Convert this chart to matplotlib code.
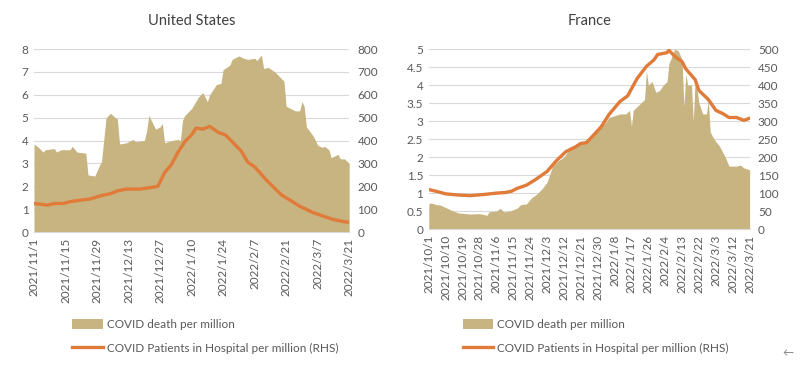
import numpy as np
import pandas as pd
import matplotlib
matplotlib.use("Agg")
import matplotlib.pyplot as plt
from matplotlib.patches import Patch
from matplotlib.lines import Line2D

plt.rcParams['font.family'] = ['Lato', 'DejaVu Sans']

# ---------- data ----------
# United States: days since 2021/11/1
us_start = "2021-11-01"
us_death_day = [0, 2, 4, 5, 9, 10, 12, 16, 17, 19, 23, 24, 27, 29, 30, 32, 34, 36, 37, 38,
                41, 44, 45, 49, 50, 51, 53, 54, 56, 57, 58, 61, 64, 65, 66, 67, 70, 73, 75, 77,
                78, 81, 83, 84, 87, 88, 91, 93, 95, 98, 99, 101, 102, 104, 107, 110, 111, 112, 114, 116,
                118, 119, 120, 121, 124, 126, 128, 129, 131, 132, 135, 136, 138, 140]
us_death = [3.85, 3.7, 3.5, 3.6, 3.65, 3.5, 3.6, 3.6, 3.75, 3.5, 3.45, 2.5, 2.45, 2.9, 3.1, 5.0, 5.2, 5.0, 4.95, 3.85,
            3.9, 4.05, 3.95, 4.0, 4.4, 5.1, 4.7, 4.5, 4.6, 4.75, 3.9, 4.0, 4.05, 4.0, 4.9, 5.1, 5.4, 5.9, 6.1, 5.7,
            6.0, 6.45, 6.5, 7.1, 7.3, 7.55, 7.7, 7.6, 7.55, 7.6, 7.5, 7.75, 7.15, 7.2, 7.0, 6.7, 6.6, 5.5, 5.4, 5.3,
            5.3, 5.7, 5.5, 4.6, 4.2, 3.8, 3.7, 3.75, 3.6, 3.25, 3.4, 3.2, 3.2, 3.0]
us_hosp_day = [0, 6, 9, 13, 16, 21, 25, 30, 34, 37, 41, 47, 52, 55, 58, 61, 64, 67, 70, 72,
               75, 78, 82, 85, 89, 92, 95, 98, 103, 106, 110, 114, 118, 124, 129, 133, 138, 140]
us_hosp = [125, 118, 125, 125, 133, 140, 145, 160, 168, 180, 188, 188, 195, 200, 260, 295, 350, 395, 425, 455,
           450, 462, 435, 425, 385, 355, 305, 285, 230, 200, 162, 138, 113, 85, 68, 55, 45, 43]

# France: days since 2021/10/1
fr_start = "2021-10-01"
fr_death_day = [0, 1, 4, 6, 9, 13, 16, 18, 22, 27, 30, 31, 32, 36, 38, 40, 43, 47, 49, 52,
                55, 57, 60, 63, 64, 66, 69, 72, 74, 77, 80, 83, 87, 90, 94, 96, 99, 102, 105, 107,
                108, 109, 112, 115, 116, 117, 119, 121, 123, 125, 127, 128, 130, 131, 133, 135, 136, 137, 138, 140,
                141, 142, 144, 146, 148, 149, 150, 152, 155, 158, 160, 164, 166, 168, 171]
fr_death = [0.7, 0.73, 0.68, 0.67, 0.6, 0.5, 0.45, 0.44, 0.42, 0.43, 0.4, 0.38, 0.48, 0.5, 0.58, 0.48, 0.5, 0.58, 0.68, 0.7,
            0.88, 0.95, 1.1, 1.3, 1.45, 1.75, 1.9, 2.0, 2.15, 2.25, 2.4, 2.45, 2.6, 2.8, 2.95, 3.1, 3.15, 3.2, 3.2, 3.3,
            2.85, 3.3, 3.45, 3.6, 4.4, 4.0, 4.1, 3.8, 3.85, 4.0, 4.1, 4.6, 4.85, 5.0, 4.95, 4.7, 3.4, 4.3, 4.0, 4.0,
            3.0, 4.2, 3.5, 3.2, 3.2, 3.6, 2.7, 2.5, 2.3, 2.0, 1.75, 1.75, 1.78, 1.7, 1.65]
fr_hosp_day = [0, 4, 9, 15, 22, 29, 36, 41, 44, 47, 52, 57, 63, 68, 73, 78, 81, 84, 88, 92,
               96, 102, 106, 111, 116, 120, 122, 127, 128, 131, 135, 137, 142, 144, 149, 153, 157, 160, 164, 168, 171]
fr_hosp = [110, 105, 98, 95, 93, 96, 100, 102, 105, 113, 122, 138, 160, 190, 215, 228, 238, 240, 262, 285,
           318, 355, 370, 418, 452, 470, 485, 490, 497, 480, 465, 445, 415, 385, 360, 330, 320, 310, 310, 302, 308]

area_color = '#C8B480'
line_color = '#E07B39'
grid_color = '#D9D9D9'
text_color = '#595959'


def draw_panel(ax, title, start, n_days, tick_step, d_day, death, h_day, hosp, ymax, ystep, rmax, rstep):
    ax.fill_between(d_day, death, 0, color=area_color, linewidth=0, zorder=2)
    ax.set_xlim(0, n_days)
    ax.set_ylim(0, ymax)
    yt = np.arange(0, ymax + 1e-9, ystep)
    ax.set_yticks(yt)
    ax.set_yticklabels([f"{v:g}" for v in yt])
    ax.grid(axis='y', color=grid_color, linewidth=0.8, zorder=0)
    ax.set_axisbelow(True)
    dates = pd.date_range(start, periods=n_days + 1, freq='D')
    ticks = np.arange(0, n_days + 1, tick_step)
    ax.set_xticks(ticks)
    ax.set_xticklabels([f"{dates[t].year}/{dates[t].month}/{dates[t].day}" for t in ticks],
                       rotation=90, fontsize=8.5, color=text_color)
    for s in ['top', 'left', 'right']:
        ax.spines[s].set_visible(False)
    ax.spines['bottom'].set_color(grid_color)
    ax.tick_params(length=0, labelsize=8.5, colors=text_color, pad=4)
    ax.set_title(title, fontsize=10.5, color='#404040', pad=17)

    ax2 = ax.twinx()
    ax2.plot(h_day, hosp, color=line_color, linewidth=2.4, solid_capstyle='round', zorder=3)
    ax2.set_ylim(0, rmax)
    ax2.set_yticks(np.arange(0, rmax + 1, rstep))
    for s in ['top', 'left', 'right', 'bottom']:
        ax2.spines[s].set_visible(False)
    ax2.tick_params(length=0, labelsize=8.5, colors=text_color, pad=6)
    return ax2


fig = plt.figure(figsize=(8, 3.69), dpi=100)
ax_us = fig.add_axes([0.0425, 0.371, 0.394, 0.496])
ax_fr = fig.add_axes([0.536, 0.379, 0.401, 0.488])

draw_panel(ax_us, 'United States', us_start, 140, 14, us_death_day, us_death, us_hosp_day, us_hosp,
           8, 1, 800, 100)
draw_panel(ax_fr, 'France', fr_start, 171, 9, fr_death_day, fr_death, fr_hosp_day, fr_hosp,
           5, 0.5, 500, 50)

handles = [Patch(facecolor=area_color, edgecolor='none'),
           Line2D([0], [0], color=line_color, linewidth=2.4)]
labels = ['COVID death per million', 'COVID Patients in Hospital per million (RHS)']
for x0 in [0.083, 0.571]:
    fig.legend(handles, labels, loc='upper left', bbox_to_anchor=(x0, 0.152),
               frameon=False, fontsize=8.5, labelcolor=text_color, handlelength=2.6, handleheight=0.9,
               handletextpad=0.3, labelspacing=1.1, borderpad=0)

fig.text(0.992, 0.03, '\u2190', fontsize=8, color='#808080', ha='right', va='bottom')

fig.savefig('out.png', dpi=100, facecolor='white')
